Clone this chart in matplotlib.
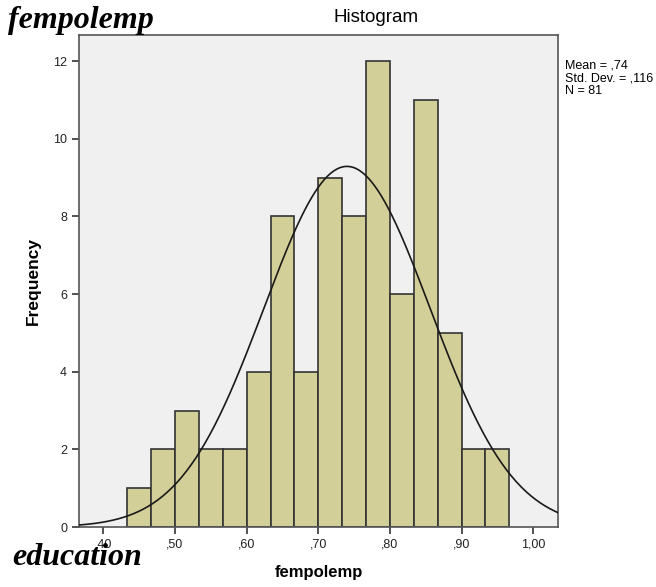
import numpy as np
import matplotlib
matplotlib.use('Agg')
from matplotlib import pyplot as plt

# histogram bins (width 1/30) and counts per bin
bin_start = 0.4333
bin_width = 1 / 30
counts = [1, 2, 3, 2, 2, 4, 8, 4, 9, 8, 12, 6, 11, 5, 2, 2]

mean = 0.74
std = 0.116
n = 81

xticks = [0.4, 0.5, 0.6, 0.7, 0.8, 0.9, 1.0]
xtick_labels = [',40', ',50', ',60', ',70', ',80', ',90', '1,00']
yticks = [0, 2, 4, 6, 8, 10, 12]

plt.rcParams['font.family'] = ['Liberation Sans', 'DejaVu Sans']

fig = plt.figure(figsize=(6.56, 5.87), dpi=100)
ax = fig.add_axes([0.1204, 0.1022, 0.7302, 0.8382])
ax.set_facecolor('#f0f0f0')

lefts = bin_start + bin_width * np.arange(len(counts))
ax.bar(lefts, counts, width=bin_width, align='edge', color='#d3cf98',
       edgecolor='#333333', linewidth=1.2, zorder=2)

# normal curve scaled to counts
xs = np.linspace(0.366, 1.0345, 300)
ys = n * bin_width / (std * np.sqrt(2 * np.pi)) * np.exp(-0.5 * ((xs - mean) / std) ** 2)
ax.plot(xs, ys, color='#1a1a1a', linewidth=1.2, zorder=3)

ax.set_xlim(0.366, 1.0345)
ax.set_ylim(0, 12.67)
ax.set_xticks(xticks)
ax.set_xticklabels(xtick_labels)
ax.set_yticks(yticks)
ax.tick_params(direction='out', length=5, width=1.2, labelsize=9,
               colors='#333333', labelcolor='#222222')
for s in ax.spines.values():
    s.set_color('#555555')
    s.set_linewidth(1.2)

fig.text(376 / 656, 1 - 18 / 587, 'Histogram', fontsize=13.5,
         ha='center', va='center')
ax.set_xlabel('fempolemp', fontsize=12, fontweight='bold', labelpad=10)
ax.set_ylabel('Frequency', fontsize=12.5, fontweight='bold', labelpad=9)

fig.text(0.862, 0.898, 'Mean = ,74\nStd. Dev. = ,116\nN = 81',
         fontsize=9, va='top', ha='left', linespacing=1.08)

fig.text(0.012, 0.952, 'fempolemp', fontsize=23, fontweight='bold',
         fontstyle='italic', family='Liberation Serif', va='baseline')
fig.text(0.018, 0.037, 'education', fontsize=23, fontweight='bold',
         fontstyle='italic', family='Liberation Serif', va='baseline')

fig.savefig('out.png', dpi=100)
